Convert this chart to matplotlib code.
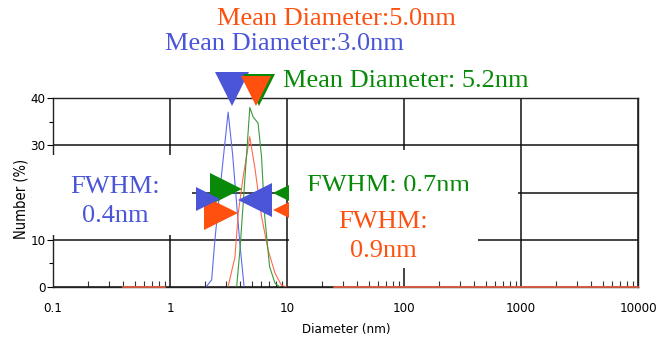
import numpy as np
import matplotlib.pyplot as plt
from matplotlib.patches import Rectangle
from matplotlib.ticker import FixedLocator, NullFormatter

W, H = 668, 343

# size distributions (number %)
blue_d = [2.03, 2.27, 2.42, 2.67, 3.14, 3.43, 3.70, 3.95, 4.30]
blue_n = [0, 1.5, 10, 20.5, 37, 28, 18, 9.3, 0]

orange_d = [3.13, 3.59, 3.83, 4.22, 4.80, 5.30, 6.06, 6.90, 7.90, 8.95, 9.90]
orange_n = [0, 6.3, 15.6, 23.3, 31.8, 25.4, 14.9, 7.8, 2.9, 0.4, 0]

green_d = [3.71, 3.96, 4.30, 4.81, 5.13, 5.66, 6.06, 6.45, 7.10, 7.90, 8.70]
green_n = [0, 7.8, 20.5, 38, 36, 34.7, 27.5, 14.9, 4.3, 0.8, 0]

# flat parts of the orange trace that show on the axis
orange_flat_d = [[0.4, 0.9], [25, 10000]]

# marker positions (diameter, number)
mean_blue = (3.36, 41.9)
mean_orange = (5.4, 41.4)
mean_green = (5.75, 41.7)
fwhm_blue = [(2.12, 18.6), (5.37, 18.5)]
fwhm_green = [(3.0, 20.8), (10.2, 19.9)]
fwhm_orange = [(2.75, 15.6), (10.4, 16.3)]

xticks = [0.1, 1, 10, 100, 1000, 10000]
xtick_labels = ['0.1', '1', '10', '100', '1000', '10000']
yticks = [0, 10, 20, 30, 40]

c_blue = '#4a55d8'
c_orange = '#ff5010'
c_green = '#088a08'


def fx(px):
    return px / W


def fy(py):
    return 1 - py / H


fig = plt.figure(figsize=(W / 100, H / 100), dpi=100)
ax = fig.add_axes([fx(53), fy(287), (638 - 53) / W, (287 - 98) / H])

ax.set_xscale('log')
ax.set_xlim(0.1, 10000)
ax.set_ylim(0, 40)

sans = dict(fontfamily='DejaVu Sans', fontstretch='condensed')
serif = 'Liberation Serif'

ax.set_xticks(xticks)
ax.set_xticklabels(xtick_labels, fontsize=9.5, **sans)
ax.xaxis.set_minor_locator(FixedLocator([m * 10.0 ** e for e in range(-1, 4) for m in range(2, 10)]))
ax.xaxis.set_minor_formatter(NullFormatter())
ax.tick_params(axis='x', which='major', length=0, pad=11)
ax.tick_params(axis='x', which='minor', direction='in', length=4, width=0.8, color='#333333')

ax.set_yticks(yticks)
ax.set_yticklabels([str(v) for v in yticks], fontsize=9.5, **sans)
ax.set_yticks([5, 15, 25, 35], minor=True)
ax.tick_params(axis='y', which='major', direction='out', length=4.5, width=0.8, pad=1)
ax.tick_params(axis='y', which='minor', direction='out', length=3, width=0.8)

ax.set_axisbelow(True)
ax.grid(True, which='major', color='#111111', lw=1.1)
for s in ax.spines.values():
    s.set_color('#222222')
    s.set_linewidth(1.0)

# curves
ax.plot(blue_d, blue_n, color='#5a6cf0', lw=0.8, zorder=2)
ax.plot(orange_d, orange_n, color='#ff6a4a', lw=0.8, zorder=2)
ax.plot(green_d, green_n, color='#3a9a3a', lw=0.8, zorder=2)
for seg in orange_flat_d:
    ax.plot(seg, [0, 0], color='#ff6a4a', lw=1.1, zorder=3, clip_on=False)

# mean diameter markers
ax.plot(*mean_blue, marker='v', ms=25, color=c_blue, mew=0, clip_on=False, zorder=4)
ax.plot(*mean_green, marker='v', ms=23, color=c_green, mew=0, clip_on=False, zorder=4)
ax.plot(*mean_orange, marker='v', ms=22, color=c_orange, mew=0, clip_on=False, zorder=4)

# FWHM markers
ax.plot(*fwhm_green[0], marker='>', ms=23, color=c_green, mew=0, zorder=3)
ax.plot(*fwhm_orange[0], marker='>', ms=24, color=c_orange, mew=0, zorder=3)
ax.plot(*fwhm_blue[0], marker='>', ms=17, color=c_blue, mew=0, zorder=3.2)
ax.plot(*fwhm_green[1], marker='<', ms=22, color=c_green, mew=0, zorder=3, clip_on=False)
ax.plot(*fwhm_orange[1], marker='<', ms=23, color=c_orange, mew=0, zorder=3, clip_on=False)
ax.plot(*fwhm_blue[1], marker='<', ms=25, color=c_blue, mew=0, zorder=3.2)


def box(x0, y0, x1, y1, z):
    ax.add_patch(Rectangle((fx(x0), fy(y1)), (x1 - x0) / W, (y1 - y0) / H,
                           transform=fig.transFigure, facecolor='white',
                           edgecolor='none', clip_on=False, zorder=z))


def label(px, py, s, color, ha='left', va='baseline', z=7):
    ax.text(fx(px), fy(py), s, transform=fig.transFigure, color=color,
            fontfamily=serif, fontsize=19, ha=ha, va=va, zorder=z, clip_on=False)


# white label boxes pasted over the chart
box(32, 155, 192, 235, 5)
box(289, 150, 518, 195, 5)
label(307, 192, 'FWHM: 0.7nm', c_green, z=5.5)
box(289, 191, 478, 268, 6)

label(115, 193, 'FWHM:', c_blue, ha='center')
label(115, 222, '0.4nm', c_blue, ha='center')
label(383, 228, 'FWHM:', c_orange, ha='center')
label(383, 257, '0.9nm', c_orange, ha='center')

label(217, 25, 'Mean Diameter:5.0nm', c_orange)
label(165, 50, 'Mean Diameter:3.0nm', c_blue)
label(283, 87, 'Mean Diameter: 5.2nm', c_green)

fig.text(fx(21), fy(199), 'Number (%)', rotation=90, ha='center', va='center',
         fontsize=10.5, **sans)
fig.text(fx(346), fy(330), 'Diameter (nm)', ha='center', va='center',
         fontsize=9.5, **sans)

fig.savefig('out.png', dpi=100)
